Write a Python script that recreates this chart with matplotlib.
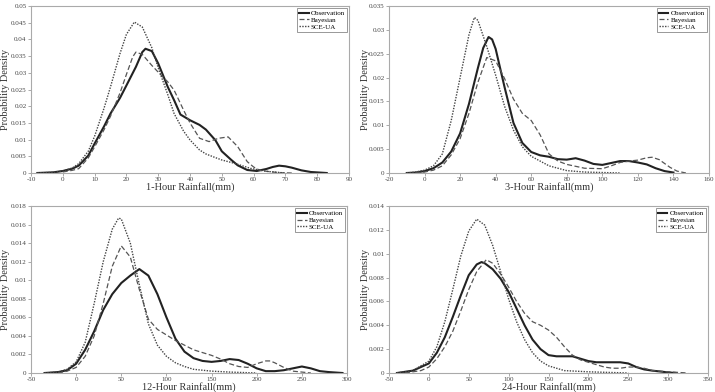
import numpy as np
import matplotlib
matplotlib.use("Agg")
import matplotlib.pyplot as plt

plt.rcParams['font.family'] = ['Liberation Serif', 'DejaVu Serif']

# ---- 1-hour ----
x1_obs = [-8, -3, 0, 3, 5, 8, 10, 13, 15, 18, 20, 23, 25, 26, 28, 30, 33, 35, 37, 40, 43, 45, 48, 50, 53, 55, 58, 61, 64, 66, 68, 70, 72, 75, 78, 83]
y1_obs = [0, 0.0002, 0.0006, 0.0013, 0.0022, 0.0052, 0.0088, 0.014, 0.0178, 0.0225, 0.0262, 0.0318, 0.0362, 0.0372, 0.0365, 0.0328, 0.0258, 0.0218, 0.0175, 0.0158, 0.0144, 0.013, 0.0098, 0.0065, 0.0039, 0.0023, 0.0009, 0.0006, 0.0012, 0.0018, 0.0022, 0.002, 0.0016, 0.0008, 0.0003, 0]
x1_bay = [0, 3, 5, 8, 10, 13, 15, 18, 20, 22, 23, 25, 28, 30, 33, 35, 38, 40, 43, 46, 49, 52, 55, 58, 60, 62, 65, 68, 72]
y1_bay = [0.0003, 0.0008, 0.0013, 0.0045, 0.0078, 0.013, 0.017, 0.024, 0.0295, 0.0348, 0.0362, 0.0355, 0.0322, 0.0302, 0.0273, 0.0248, 0.0188, 0.015, 0.0104, 0.0094, 0.0104, 0.0108, 0.0079, 0.0034, 0.0018, 0.0008, 0.0004, 0.0001, 0]
x1_sce = [-8, -3, 0, 3, 5, 8, 10, 13, 15, 18, 20, 22.5, 25, 28, 30, 33, 35, 38, 40, 43, 45, 48, 50, 54, 59, 64, 70]
y1_sce = [0, 0.0002, 0.0006, 0.0015, 0.0028, 0.0065, 0.011, 0.0195, 0.0258, 0.0358, 0.0415, 0.0452, 0.0437, 0.0375, 0.0315, 0.0235, 0.0178, 0.0125, 0.0099, 0.0069, 0.0057, 0.0046, 0.0039, 0.0029, 0.0014, 0.0005, 0]

# ---- 3-hour ----
x3_obs = [-10, -5, 0, 5, 10, 15, 20, 25, 30, 33, 36, 38, 40, 45, 50, 55, 60, 65, 70, 75, 80, 85, 90, 95, 100, 105, 110, 115, 120, 125, 130, 135, 140]
y3_obs = [0, 0.0001, 0.0004, 0.001, 0.0022, 0.0045, 0.0083, 0.0145, 0.022, 0.0262, 0.0285, 0.028, 0.026, 0.018, 0.0105, 0.0063, 0.0044, 0.0037, 0.0034, 0.0029, 0.0028, 0.0031, 0.0026, 0.0019, 0.0017, 0.0021, 0.0025, 0.0025, 0.0022, 0.0018, 0.001, 0.0004, 0.0001]
x3_bay = [-5, 0, 5, 10, 15, 20, 25, 30, 35, 40, 45, 50, 55, 60, 65, 70, 75, 80, 90, 100, 105, 110, 115, 120, 125, 128, 132, 138, 142, 147]
y3_bay = [0, 0.0002, 0.0006, 0.0015, 0.0038, 0.0072, 0.0125, 0.019, 0.0242, 0.0235, 0.0198, 0.0155, 0.0125, 0.011, 0.008, 0.004, 0.0025, 0.0018, 0.001, 0.0009, 0.0015, 0.0022, 0.0025, 0.0027, 0.0032, 0.0033, 0.0028, 0.0012, 0.0004, 0]
x3_sce = [-10, -5, 0, 5, 10, 15, 20, 25, 28, 30, 35, 40, 45, 50, 55, 60, 65, 70, 80, 90, 100, 110]
y3_sce = [0, 0.0002, 0.0006, 0.0015, 0.004, 0.011, 0.02, 0.029, 0.0326, 0.032, 0.0265, 0.0205, 0.014, 0.009, 0.0055, 0.0035, 0.0025, 0.0015, 0.0005, 0.0002, 0.0001, 0]

# ---- 12-hour ----
x12_obs = [-35, -20, -10, 0, 10, 20, 30, 40, 50, 60, 70, 80, 90, 100, 110, 120, 130, 140, 150, 160, 170, 180, 190, 200, 210, 220, 230, 240, 250, 260, 270, 280, 295]
y12_obs = [0, 0.0001, 0.0003, 0.001, 0.0025, 0.0045, 0.0068, 0.0085, 0.0097, 0.0105, 0.0112, 0.0105, 0.0085, 0.006, 0.0037, 0.0023, 0.0016, 0.0013, 0.0012, 0.0013, 0.0015, 0.0014, 0.001, 0.0005, 0.0002, 0.0002, 0.0003, 0.0005, 0.0007, 0.0005, 0.0002, 0.0001, 0]
x12_bay = [-20, -10, 0, 10, 20, 30, 40, 50, 60, 70, 80, 90, 100, 110, 120, 130, 140, 150, 160, 170, 180, 190, 200, 210, 215, 220, 230, 240, 250, 260]
y12_bay = [0, 0.0002, 0.0006, 0.0018, 0.004, 0.0075, 0.0115, 0.0137, 0.0125, 0.009, 0.0058, 0.0047, 0.0041, 0.0035, 0.003, 0.0025, 0.0022, 0.0019, 0.0015, 0.001, 0.0007, 0.0006, 0.001, 0.0013, 0.0013, 0.0011, 0.0006, 0.0002, 0.0001, 0]
x12_sce = [-35, -20, -10, 0, 10, 20, 30, 40, 47, 50, 60, 70, 80, 90, 100, 110, 120, 130, 150, 170, 200]
y12_sce = [0, 0.0001, 0.0004, 0.0012, 0.0033, 0.0075, 0.012, 0.0155, 0.0167, 0.0166, 0.014, 0.0095, 0.0053, 0.003, 0.0018, 0.0011, 0.0007, 0.0004, 0.0002, 0.0001, 0]

# ---- 24-hour ----
x24_obs = [-40, -20, 0, 10, 20, 30, 40, 50, 60, 66, 70, 80, 90, 100, 110, 120, 130, 140, 150, 160, 170, 180, 190, 200, 210, 220, 230, 240, 250, 260, 270, 280, 300, 310]
y24_obs = [0, 0.0002, 0.0008, 0.0017, 0.003, 0.0047, 0.0065, 0.0082, 0.0091, 0.0093, 0.0092, 0.0087, 0.0079, 0.0068, 0.0054, 0.004, 0.0028, 0.002, 0.0015, 0.0014, 0.0014, 0.0014, 0.0012, 0.001, 0.0009, 0.0009, 0.0009, 0.0009, 0.0008, 0.0005, 0.0003, 0.0002, 0.00005, 0]
x24_bay = [-30, -10, 0, 10, 20, 30, 40, 50, 60, 72, 80, 90, 100, 110, 120, 130, 140, 150, 160, 170, 180, 190, 200, 210, 220, 230, 240, 250, 260, 270, 280, 300, 325]
y24_bay = [0, 0.0002, 0.0005, 0.0012, 0.0022, 0.0035, 0.0052, 0.007, 0.0085, 0.0095, 0.0092, 0.0083, 0.0072, 0.006, 0.005, 0.0043, 0.004, 0.0036, 0.003, 0.0022, 0.0015, 0.0011, 0.0009, 0.0007, 0.0005, 0.0004, 0.0004, 0.0005, 0.0005, 0.0004, 0.0002, 0.0001, 0]
x24_sce = [-40, -20, 0, 10, 20, 30, 40, 50, 60, 70, 80, 90, 100, 110, 120, 130, 140, 150, 160, 170, 200, 250]
y24_sce = [0, 0.0002, 0.001, 0.0022, 0.0043, 0.007, 0.0098, 0.0119, 0.0129, 0.0124, 0.0107, 0.0085, 0.0062, 0.0043, 0.0028, 0.0017, 0.001, 0.0006, 0.0004, 0.0002, 0.0001, 0]

panels = [
    dict(obs=(x1_obs, y1_obs), bay=(x1_bay, y1_bay), sce=(x1_sce, y1_sce),
         xlim=(-10, 90), xstep=10, ylim=(0, 0.05), ystep=0.005, xlabel='1-Hour Rainfall(mm)',
         rect=[31, 6, 349, 173], ylab_px=10, xlab_px=182),
    dict(obs=(x3_obs, y3_obs), bay=(x3_bay, y3_bay), sce=(x3_sce, y3_sce),
         xlim=(-20, 160), xstep=20, ylim=(0, 0.035), ystep=0.005, xlabel='3-Hour Rainfall(mm)',
         rect=[389, 6, 709, 173], ylab_px=370, xlab_px=182),
    dict(obs=(x12_obs, y12_obs), bay=(x12_bay, y12_bay), sce=(x12_sce, y12_sce),
         xlim=(-50, 300), xstep=50, ylim=(0, 0.018), ystep=0.002, xlabel='12-Hour Rainfall(mm)',
         rect=[31, 206, 347, 373], ylab_px=10, xlab_px=382.5),
    dict(obs=(x24_obs, y24_obs), bay=(x24_bay, y24_bay), sce=(x24_sce, y24_sce),
         xlim=(-50, 350), xstep=50, ylim=(0, 0.014), ystep=0.002, xlabel='24-Hour Rainfall(mm)',
         rect=[389, 206, 708, 373], ylab_px=370, xlab_px=382.5),
]

W, H = 715, 392
fig = plt.figure(figsize=(W / 100, H / 100), dpi=100)

def fmt(v):
    s = ('%.4f' % v).rstrip('0').rstrip('.')
    return s

for p in panels:
    l, t, r, b = p['rect']
    ax = fig.add_axes([l / W, 1 - b / H, (r - l) / W, (b - t) / H])
    ax.plot(*p['obs'], color='#222222', lw=1.5, ls='-', label='Observation')
    ax.plot(*p['bay'], color='#555555', lw=0.9, ls=(0, (4, 2)), label='Bayesian')
    ax.plot(*p['sce'], color='#444444', lw=1.0, ls=(0, (1, 1)), label='SCE-UA')
    ax.set_xlim(*p['xlim'])
    ax.set_ylim(*p['ylim'])
    xt = np.arange(p['xlim'][0], p['xlim'][1] + 0.1, p['xstep'])
    yt = np.arange(0, p['ylim'][1] + 1e-9, p['ystep'])
    ax.set_xticks(xt)
    ax.set_xticklabels([str(int(v)) for v in xt])
    ax.set_yticks(yt)
    ax.set_yticklabels([fmt(v) for v in yt])
    ax.tick_params(labelsize=5, length=2, width=0.5, color='#888888', pad=1.2,
                   direction='out', labelcolor='#444444')
    for s in ax.spines.values():
        s.set_color('#aaaaaa')
        s.set_linewidth(0.8)
    ax.set_xlabel(p['xlabel'], fontsize=7.5, color='#333333')
    ax.xaxis.set_label_coords(0.5, -(p['xlab_px'] - b) / (b - t))
    ax.set_ylabel('Probability Density', fontsize=7.5, color='#333333')
    ax.yaxis.set_label_coords(-(l - p['ylab_px']) / (r - l), 0.5)
    leg = ax.legend(loc='upper right', fontsize=5, handlelength=1.4, handletextpad=0.3,
                    borderpad=0.3, labelspacing=0.15, fancybox=False, framealpha=1,
                    borderaxespad=0.3)
    leg.get_frame().set_edgecolor('#888888')
    leg.get_frame().set_linewidth(0.6)

fig.savefig('out.png', dpi=100)
